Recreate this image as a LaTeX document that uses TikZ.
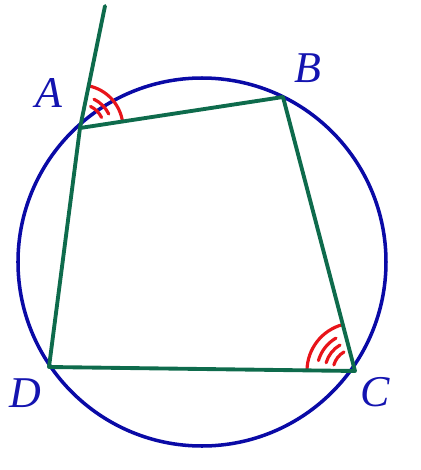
\documentclass[tikz,border=0pt]{standalone}
\usepackage{fontspec}
\setmainfont{Liberation Serif}
\usepackage{xcolor}
\usepackage{tikz}
\usetikzlibrary{calc,angles,quotes,arrows.meta}
\definecolor{circ}{HTML}{0A0AA6}
\definecolor{quad}{HTML}{0E6B4C}
\definecolor{mark}{HTML}{E8141A}
\definecolor{lbl}{HTML}{1414B0}
\tikzset{
  rim/.style={draw=circ, line width=2pt},
  side/.style={draw=quad, line width=2.2pt, line cap=round, line join=round},
  ang/.style={draw=mark, line width=1.8pt, line cap=round},
  lab/.style={text=lbl, font=\fontsize{25}{27}\selectfont\itshape, inner sep=0pt},
}

\begin{document}
\begin{tikzpicture}
  \useasboundingbox (-4.04,-4.16) rectangle (4.38,5.24);
  \coordinate (O) at (0,0);
  \coordinate (A) at (-2.44,2.68);
  \coordinate (B) at (1.62,3.30);
  \coordinate (C) at (3.06,-2.18);
  \coordinate (D) at (-3.06,-2.10);
  \coordinate (P) at (-1.94,5.12);
  % circle
  \draw[rim] (O) circle (3.68);
  % angle marks
  \pic[ang, angle radius=0.86cm] {angle = B--A--P};
  \foreach \r in {0.48,0.64} \draw[ang] ($(A)+(26:\r)$) arc (26:64:\r);
  \pic[ang, angle radius=0.96cm] {angle = B--C--D};
  \foreach \r in {0.44,0.60,0.76} \draw[ang] ($(C)+(120:\r)$) arc (120:164:\r);
  % quadrilateral
  \draw[side] (D)--(A)--(B)--(C)--cycle;
  \draw[side] (A)--(P);
  % labels
  \node[lab] (lA) at (-3.06,3.38) {A};
  \node[lab] (lB) at (2.12,3.88) {B};
  \node[lab] (lC) at (3.46,-2.60) {C};
  \node[lab] (lD) at (-3.54,-2.62) {D};
\end{tikzpicture}
\end{document}
